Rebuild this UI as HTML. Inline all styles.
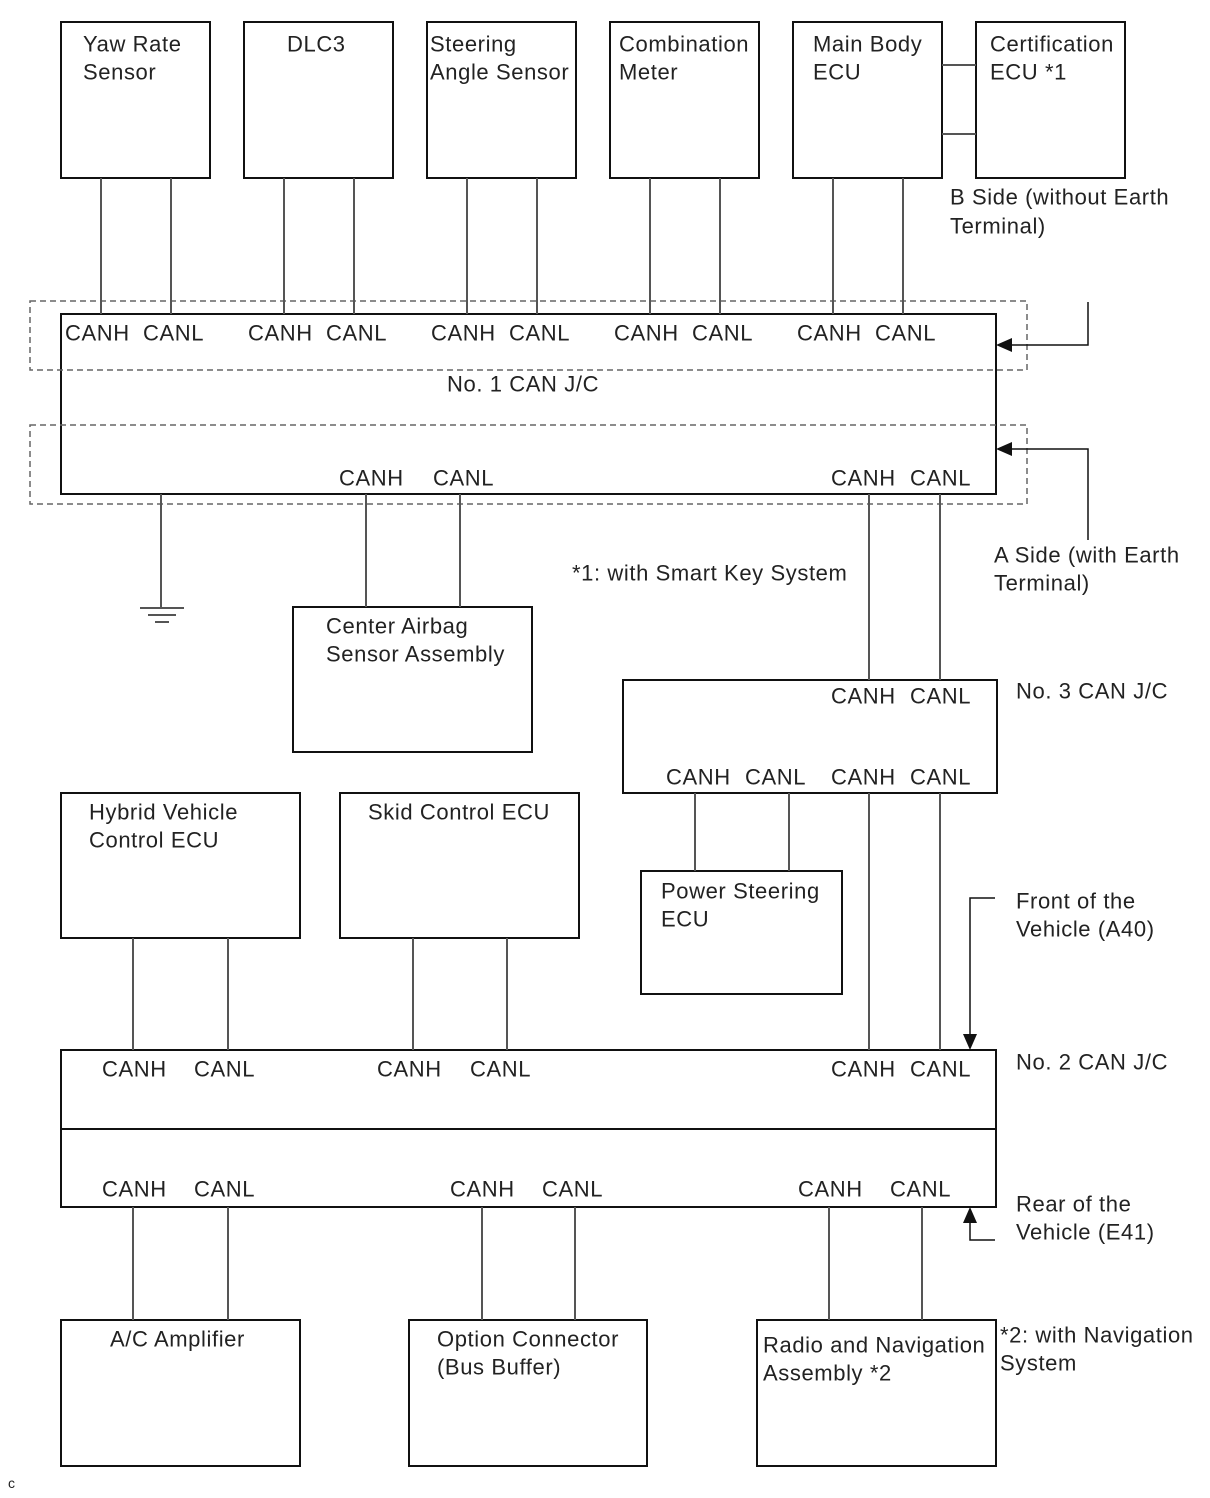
<!DOCTYPE html>
<html><head><meta charset="utf-8"><style>body{margin:0;background:#fff}svg{display:block}text{font-family:"Liberation Sans",sans-serif;font-size:22px;letter-spacing:0.6px;fill:#222;dominant-baseline:central}</style></head><body>
<svg width="1210" height="1498" viewBox="0 0 1210 1498">
<g fill="none" stroke="#111" stroke-width="2">
<rect x="61" y="22" width="149" height="156"/><rect x="244" y="22" width="149" height="156"/><rect x="427" y="22" width="149" height="156"/><rect x="610" y="22" width="149" height="156"/><rect x="793" y="22" width="149" height="156"/><rect x="976" y="22" width="149" height="156"/>
<rect x="61" y="314" width="935" height="180"/>
<rect x="293" y="607" width="239" height="145"/>
<rect x="623" y="680" width="374" height="113"/>
<rect x="641" y="871" width="201" height="123"/>
<rect x="61" y="793" width="239" height="145"/><rect x="340" y="793" width="239" height="145"/>
<rect x="61" y="1050" width="935" height="157"/><line x1="61" y1="1129" x2="996" y2="1129"/>
<rect x="61" y="1320" width="239" height="146"/><rect x="409" y="1320" width="238" height="146"/><rect x="757" y="1320" width="239" height="146"/>
</g>
<g fill="none" stroke="#666" stroke-width="1.5" stroke-dasharray="6,4"><rect x="30" y="301" width="997" height="69"/><rect x="30" y="425" width="997" height="79"/></g>
<g stroke="#555" stroke-width="2">
<line x1="942" y1="65" x2="976" y2="65"/><line x1="942" y1="134" x2="976" y2="134"/>
<line x1="101" y1="178" x2="101" y2="314"/><line x1="171" y1="178" x2="171" y2="314"/>
<line x1="284" y1="178" x2="284" y2="314"/><line x1="354" y1="178" x2="354" y2="314"/>
<line x1="467" y1="178" x2="467" y2="314"/><line x1="537" y1="178" x2="537" y2="314"/>
<line x1="650" y1="178" x2="650" y2="314"/><line x1="720" y1="178" x2="720" y2="314"/>
<line x1="833" y1="178" x2="833" y2="314"/><line x1="903" y1="178" x2="903" y2="314"/>
<line x1="161" y1="494" x2="161" y2="607"/>
<line x1="140" y1="608" x2="184" y2="608"/><line x1="148" y1="615" x2="176" y2="615"/><line x1="155" y1="622" x2="169" y2="622"/>
<line x1="366" y1="494" x2="366" y2="607"/><line x1="460" y1="494" x2="460" y2="607"/>
<line x1="869" y1="494" x2="869" y2="680"/><line x1="940" y1="494" x2="940" y2="680"/>
<line x1="695" y1="793" x2="695" y2="871"/><line x1="789" y1="793" x2="789" y2="871"/>
<line x1="869" y1="793" x2="869" y2="1050"/><line x1="940" y1="793" x2="940" y2="1050"/>
<line x1="133" y1="938" x2="133" y2="1050"/><line x1="228" y1="938" x2="228" y2="1050"/>
<line x1="413" y1="938" x2="413" y2="1050"/><line x1="507" y1="938" x2="507" y2="1050"/>
<line x1="133" y1="1207" x2="133" y2="1320"/><line x1="228" y1="1207" x2="228" y2="1320"/>
<line x1="482" y1="1207" x2="482" y2="1320"/><line x1="575" y1="1207" x2="575" y2="1320"/>
<line x1="829" y1="1207" x2="829" y2="1320"/><line x1="922" y1="1207" x2="922" y2="1320"/>
</g>
<g stroke="#111" stroke-width="1.5" fill="none">
<polyline points="1088,302 1088,345 1008,345"/><polyline points="1088,540 1088,449 1008,449"/>
<polyline points="995,898 970,898 970,1038"/><polyline points="995,1240 970,1240 970,1219"/>
</g>
<g fill="#111"><polygon points="996,345 1012,338 1012,352"/><polygon points="996,449 1012,442 1012,456"/><polygon points="970,1050 963,1034 977,1034"/><polygon points="970,1207 963,1223 977,1223"/></g>
<text x="83" y="44">Yaw Rate</text><text x="83" y="72">Sensor</text>
<text x="287" y="44">DLC3</text>
<text x="430" y="44">Steering</text><text x="430" y="72">Angle Sensor</text>
<text x="619" y="44">Combination</text><text x="619" y="72">Meter</text>
<text x="813" y="44">Main Body</text><text x="813" y="72">ECU</text>
<text x="990" y="44">Certification</text><text x="990" y="72">ECU *1</text>
<text x="950" y="197">B Side (without Earth</text><text x="950" y="226">Terminal)</text>
<text x="65" y="333">CANH</text><text x="143" y="333">CANL</text>
<text x="248" y="333">CANH</text><text x="326" y="333">CANL</text>
<text x="431" y="333">CANH</text><text x="509" y="333">CANL</text>
<text x="614" y="333">CANH</text><text x="692" y="333">CANL</text>
<text x="797" y="333">CANH</text><text x="875" y="333">CANL</text>
<text x="447" y="384">No. 1 CAN J/C</text>
<text x="339" y="478">CANH</text><text x="433" y="478">CANL</text>
<text x="831" y="478">CANH</text><text x="910" y="478">CANL</text>
<text x="994" y="555">A Side (with Earth</text><text x="994" y="583">Terminal)</text>
<text x="572" y="573">*1: with Smart Key System</text>
<text x="326" y="626">Center Airbag</text><text x="326" y="654">Sensor Assembly</text>
<text x="831" y="696">CANH</text><text x="910" y="696">CANL</text><text x="1016" y="691">No. 3 CAN J/C</text>
<text x="666" y="777">CANH</text><text x="745" y="777">CANL</text><text x="831" y="777">CANH</text><text x="910" y="777">CANL</text>
<text x="89" y="812">Hybrid Vehicle</text><text x="89" y="840">Control ECU</text>
<text x="368" y="812">Skid Control ECU</text>
<text x="661" y="891">Power Steering</text><text x="661" y="919">ECU</text>
<text x="1016" y="901">Front of the</text><text x="1016" y="929">Vehicle (A40)</text>
<text x="1016" y="1062">No. 2 CAN J/C</text>
<text x="102" y="1069">CANH</text><text x="194" y="1069">CANL</text><text x="377" y="1069">CANH</text><text x="470" y="1069">CANL</text><text x="831" y="1069">CANH</text><text x="910" y="1069">CANL</text>
<text x="102" y="1189">CANH</text><text x="194" y="1189">CANL</text><text x="450" y="1189">CANH</text><text x="542" y="1189">CANL</text><text x="798" y="1189">CANH</text><text x="890" y="1189">CANL</text>
<text x="1016" y="1204">Rear of the</text><text x="1016" y="1232">Vehicle (E41)</text>
<text x="110" y="1339">A/C Amplifier</text>
<text x="437" y="1339">Option Connector</text><text x="437" y="1367">(Bus Buffer)</text>
<text x="763" y="1345">Radio and Navigation</text><text x="763" y="1373">Assembly *2</text>
<text x="1000" y="1335">*2: with Navigation</text><text x="1000" y="1363">System</text>
<text x="8" y="1483" style="font-size:14px;letter-spacing:0">c</text>
</svg>
</body></html>
